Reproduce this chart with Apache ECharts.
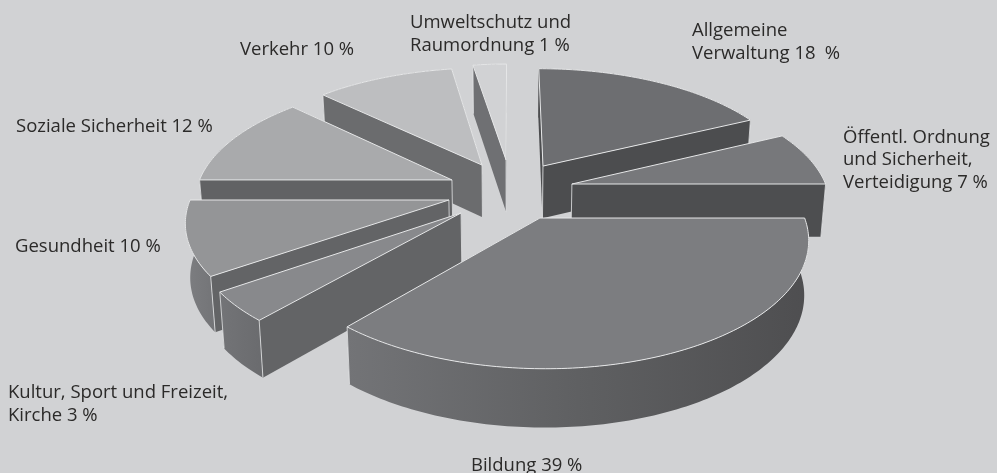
<!DOCTYPE html>
<html>
<head>
<meta charset="utf-8">
<style>
  html, body { margin: 0; padding: 0; background: #d1d2d4; }
  #chart { width: 997px; height: 473px; }
</style>
<script src="https://cdn.jsdelivr.net/npm/echarts@6/dist/echarts.min.js"></script>
</head>
<body>
<div id="chart"></div>
<script>
const categories = ['Allgemeine\nVerwaltung', 'Öffentl. Ordnung\nund Sicherheit,\nVerteidigung', 'Bildung', 'Kultur, Sport und Freizeit,\nKirche', 'Gesundheit', 'Soziale Sicherheit', 'Verkehr', 'Umweltschutz und\nRaumordnung']
// printed percentages
const percents = [18, 7, 39, 3, 10, 12, 10, 1]
// slice sizes as drawn in degrees (they differ a bit from the printed %)
const sweepDeg = [64, 26, 131, 14, 35, 44, 37, 9]

// per slice look, same order as categories
// how far each slice is pulled out of the centre, in pie radii (sideways, away from viewer)
const pullOut = [[0.133, 0.191], [0.244, 0.034], [0.113, -0.245], [-0.186, -0.205], [-0.236, -0.1], [-0.23, 0.069], [-0.113, 0.2], [-0.016, 0.246]]
const topColors = ['#6d6e71', '#77787b', '#7c7d80', '#88898c', '#949597', '#a9aaac', '#bdbec0', '#d1d2d4']
const wallColors = ['#4c4d4f', '#4d4e50', '#636466', '#636466', '#636466', '#616264', '#6b6c6e', '#6f7073']
const arcColors = [
  ['#4c4d4f', '#4c4d4f'], ['#4d4e50', '#4d4e50'], ['#737477', '#5f6062', '#4e4e50'], ['#737477', '#6a6b6e'],
  ['#7d7e81', '#737477'], ['#616264', '#616264'], ['#6b6c6e', '#6b6c6e'], ['#6f7073', '#6f7073'],
]
const labelPos = [[692, 42], [843, 160], [471, 466], [8, 404], [15, 247], [16, 127], [240, 50], [410, 34]]
const percentGap = ['\u2002', ' ', ' ', ' ', ' ', ' ', ' ', ' ']

// simple perspective of the ground plane
const CX = 510, CY = 188, R = 255, TILT = 0.463, K = 0.15, DEPTH = 53
const EDGE = '#e6e7e8'

const starts = []
sweepDeg.reduce((sum, d, i) => { starts[i] = sum; return sum + d }, 0)
const rad = (d) => d * Math.PI / 180

function project(u, v, bottom) {
  const w = 1 + K * v
  let x = CX + R * u / w
  let y = CY - R * TILT * v / w
  if (bottom) {
    x = CX + (x - CX) * 0.985
    y += DEPTH / Math.sqrt(w)
  }
  return [x, y]
}

// back slices first so the front ones cover them
const drawOrder = categories.map((c, i) => i).sort((a, b) => pullOut[b][1] - pullOut[a][1])

function renderSlice(params, api) {
  const i = api.value(0)
  const [au, av] = pullOut[i]
  const rim = []
  for (let s = 0; s <= sweepDeg[i]; s++) {
    const a = rad(starts[i] + s)
    rim.push([au + Math.sin(a), av + Math.cos(a)])
  }
  const first = rim[0], last = rim[rim.length - 1]
  const top = (p) => project(p[0], p[1], false)
  const low = (p) => project(p[0], p[1], true)
  const apex = [au, av]

  const faces = [
    { points: [top(apex), top(first), low(first), low(apex)], v: (av + first[1]) / 2, fill: wallColors[i] },
    { points: [top(apex), top(last), low(last), low(apex)], v: (av + last[1]) / 2, fill: wallColors[i] },
    {
      points: rim.map(top).concat(rim.slice().reverse().map(low)),
      v: rim.reduce((s, p) => s + p[1], 0) / rim.length,
      fill: new echarts.graphic.LinearGradient(0, 0, 1, 0,
        arcColors[i].map((c, n) => ({ offset: n / (arcColors[i].length - 1), color: c }))),
    },
  ].sort((a, b) => b.v - a.v)

  const children = faces.map((f) => ({
    type: 'polygon',
    shape: { points: f.points },
    style: { fill: f.fill, stroke: null },
  }))

  // light vertical edges, only where a wall next to them faces the viewer
  const a0 = rad(starts[i]), a1 = rad(starts[i] + sweepDeg[i])
  const startWall = Math.sin(a0) < -1e-6, endWall = Math.sin(a1) > 1e-6
  const edges = []
  if (startWall || endWall) edges.push(apex)
  if (startWall || Math.cos(a0) < -1e-6) edges.push(first)
  if (endWall || Math.cos(a1) < -1e-6) edges.push(last)
  edges.forEach((p) => {
    children.push({
      type: 'line',
      shape: { x1: top(p)[0], y1: top(p)[1], x2: low(p)[0], y2: low(p)[1] },
      style: { stroke: EDGE, lineWidth: 0.8 },
    })
  })
  children.push({
    type: 'polygon',
    shape: { points: [top(apex)].concat(rim.map(top)) },
    style: { fill: topColors[i], stroke: EDGE, lineWidth: 1, lineJoin: 'round' },
  })
  return { type: 'group', children }
}

const chart = echarts.init(document.getElementById('chart'), null, { renderer: 'canvas' })
chart.setOption({
  backgroundColor: '#d1d2d4',
  animation: false,
  series: [{
    type: 'custom',
    coordinateSystem: 'none',
    silent: true,
    renderItem: renderSlice,
    data: drawOrder.map((i) => [i, sweepDeg[i]]),
  }],
  graphic: categories.map((c, i) => ({
    type: 'text',
    silent: true,
    x: labelPos[i][0],
    y: labelPos[i][1],
    style: {
      text: c + ' ' + percents[i] + percentGap[i] + '%',
      font: '18.5px "Open Sans", sans-serif',
      fill: '#2b2a29',
      lineHeight: 22.5,
      verticalAlign: 'middle',
    },
  })),
})
</script>
</body>
</html>
